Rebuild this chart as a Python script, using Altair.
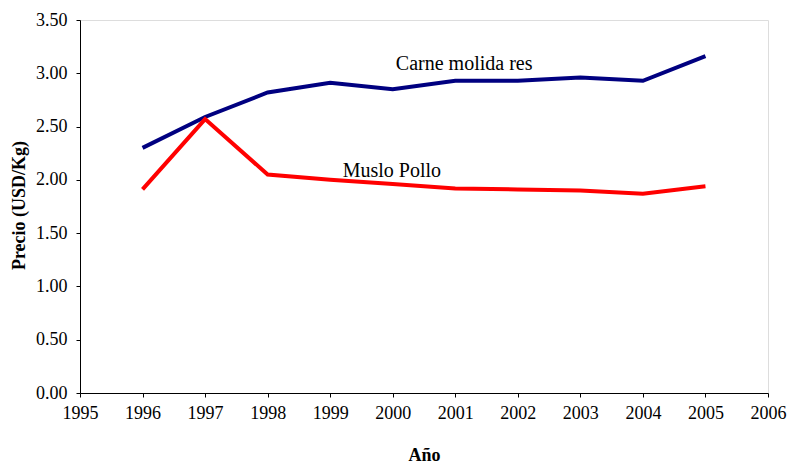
import altair as alt
import pandas as pd

years = [1996, 1997, 1998, 1999, 2000, 2001, 2002, 2003, 2004, 2005]
carne = [2.30, 2.59, 2.82, 2.91, 2.85, 2.93, 2.93, 2.96, 2.93, 3.16]
pollo = [1.91, 2.57, 2.05, 2.00, 1.96, 1.92, 1.91, 1.90, 1.87, 1.94]

series_names = ["Carne molida res", "Muslo Pollo"]
series_colors = ["#000080", "#FF0000"]

label_text = ["Carne molida res", "Muslo Pollo"]
label_x = [2000.05, 1999.2]
label_y = [3.03, 2.03]

df = pd.DataFrame({
    "Año": years * 2,
    "Precio": carne + pollo,
    "Serie": [series_names[0]] * len(years) + [series_names[1]] * len(years),
})
labels = pd.DataFrame({"texto": label_text, "x": label_x, "y": label_y})

FONT = "Liberation Serif"

x_scale = alt.Scale(domain=[1995, 2006], nice=False, zero=False)
y_scale = alt.Scale(domain=[0, 3.5], nice=False)

lines = alt.Chart(df).mark_line(strokeWidth=4, strokeJoin="miter").encode(
    x=alt.X("Año:Q", scale=x_scale,
            axis=alt.Axis(values=list(range(1995, 2007)), format="d", grid=False,
                          title="Año", titleFont=FONT, titleFontSize=18,
                          titleFontWeight="bold", titleColor="#000",
                          titleBaseline="alphabetic", titleY=67, titleX=344,
                          labelFont=FONT, labelFontSize=18, labelColor="#000",
                          labelPadding=7, tickSize=4, tickColor="#000",
                          domainColor="#000", labelFlush=False)),
    y=alt.Y("Precio:Q", scale=y_scale,
            axis=alt.Axis(values=[0, 0.5, 1, 1.5, 2, 2.5, 3, 3.5], format=".2f",
                          grid=False, title="Precio (USD/Kg)", titleFont=FONT,
                          titleFontSize=18, titleFontWeight="bold", titleColor="#000",
                          titleAngle=270, titleBaseline="middle", titleX=-61,
                          titleY=185, labelFont=FONT, labelFontSize=18,
                          labelColor="#000", labelPadding=9, tickSize=4,
                          tickColor="#000", domainColor="#000", labelFlush=False)),
    color=alt.Color("Serie:N", scale=alt.Scale(domain=series_names, range=series_colors),
                    legend=None),
)

text = alt.Chart(labels).mark_text(
    font=FONT, fontSize=20, align="left", baseline="alphabetic", color="#000"
).encode(
    x=alt.X("x:Q", scale=x_scale),
    y=alt.Y("y:Q", scale=y_scale),
    text="texto:N",
)

chart = alt.layer(lines, text).properties(
    width=688, height=373,
    autosize=alt.AutoSizeParams(type="none"),
    padding={"left": 80, "top": 20, "right": 21, "bottom": 71},
).configure_view(stroke=None).configure(background="white")

chart.save("out.html", embed_options={"renderer": "svg", "actions": False})
